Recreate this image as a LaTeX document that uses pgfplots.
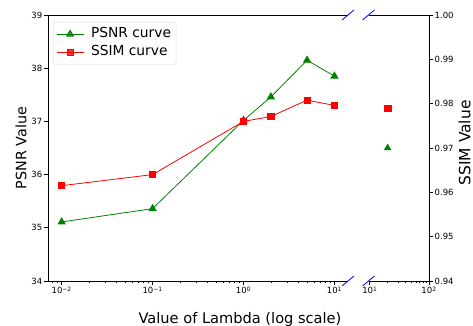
\documentclass[border=0pt]{standalone}
\usepackage{pgfplots}
\pgfplotsset{compat=1.18}
\usepackage{fontspec}
\setmainfont{DejaVu Sans}
\definecolor{mplgreen}{RGB}{0,128,0}
\definecolor{mplred}{RGB}{255,0,0}
\begin{document}
\begin{tikzpicture}
\useasboundingbox (0,0) rectangle (473pt,326pt);
% ---- left part, PSNR ----
\begin{axis}[scale only axis, anchor=south west, at={(48pt,45pt)}, width=300pt, height=266pt,
  xmode=log, ymin=34, ymax=39,
  xmin=0.00708, xmax=14.1,
  axis line style={draw=none},
  tick align=outside, major tick length=4pt, minor tick length=2.2pt,
  tick style={black, line width=0.7pt},
  ticklabel style={font=\fontsize{8.5}{10}\selectfont, inner sep=1.5pt},
  clip=false,
  xtick={0.01,0.1,1,10},
  xticklabels={10\textsuperscript{−2},10\textsuperscript{−1},10\textsuperscript{0},10\textsuperscript{1}},
  minor xtick={0.008,0.009,0.02,0.03,0.04,0.05,0.06,0.07,0.08,0.09,0.2,0.3,0.4,0.5,0.6,0.7,0.8,0.9,2,3,4,5,6,7,8,9},
  xtick pos=bottom, ytick pos=left,
  ytick={34,35,36,37,38,39},
  yticklabels={34,35,36,37,38,39},
  ylabel={PSNR Value},
  ylabel style={at={(axis description cs:-0.09,0.5)}, anchor=center, rotate=0, font=\fontsize{14.3}{16}\selectfont},
  xlabel={Value of Lambda (log scale)},
  xlabel style={at={(axis description cs:0.64,-0.143)}, anchor=center, font=\fontsize{14.6}{16}\selectfont},
]
\addplot[mplgreen, line width=0.8pt, mark=triangle*, mark size=4pt] coordinates {(0.01,35.11) (0.1,35.36) (1,37.02) (2,37.46) (5,38.15) (10,37.85)};
\draw[black, line width=0.8pt] (rel axis cs:1,0) -- (rel axis cs:0,0) -- (rel axis cs:0,1) -- (rel axis cs:1,1);
\draw[blue, line width=0.8pt] (rel axis cs:1,0) ++(-6pt,-5pt) -- ++(12pt,10pt);
\draw[blue, line width=0.8pt] (rel axis cs:1,1) ++(-6pt,-5pt) -- ++(12pt,10pt);
\end{axis}
% ---- left part, SSIM ----
\begin{axis}[scale only axis, anchor=south west, at={(48pt,45pt)}, width=300pt, height=266pt,
  xmode=log,
  xmin=0.00708, xmax=14.1, ymin=0.94, ymax=1.00,
  axis line style={draw=none},
  clip=false,
  xtick=\empty, ytick=\empty, minor xtick={},
  legend image code/.code={\draw[mark repeat=2,mark phase=2,#1] plot coordinates {(0pt,0pt) (13.5pt,0pt) (27pt,0pt)};},
  legend style={at={(axis description cs:0.0167,0.9737)}, anchor=north west,
    draw=black!15, rounded corners=2pt, fill=white, fill opacity=0.8, text opacity=1,
    font=\fontsize{13.8}{16}\selectfont, inner xsep=3pt, inner ysep=3.5pt, row sep=1.3pt,
    nodes={inner sep=2pt, text height=10pt, text depth=3pt},
    /tikz/every odd column/.append style={column sep=5pt}},
  legend cell align=left,
]
\addlegendimage{mplgreen, line width=0.8pt, mark=triangle*, mark size=4pt}
\addlegendentry{PSNR curve}
\addplot[mplred, line width=0.8pt, mark=square*, mark size=3.1pt] coordinates {(0.01,0.9615) (0.1,0.964) (1,0.976) (2,0.9771) (5,0.9808) (10,0.9796)};
\addlegendentry{SSIM curve}
\end{axis}
% ---- right part, PSNR ----
\begin{axis}[scale only axis, anchor=south west, at={(368.5pt,45pt)}, width=60.5pt, height=266pt,
  xmode=log, ymin=34, ymax=39,
  xmin=9.5, xmax=100,
  axis line style={draw=none},
  tick align=outside, major tick length=4pt, minor tick length=2.2pt,
  tick style={black, line width=0.7pt},
  ticklabel style={font=\fontsize{8.5}{10}\selectfont, inner sep=1.5pt},
  clip=false,
  xtick={10,100},
  xticklabels={10\textsuperscript{1},10\textsuperscript{2}},
  minor xtick={20,30,40,50,60,70,80,90},
  xtick pos=bottom, ytick=\empty,
]
\addplot[mplgreen, only marks, mark=triangle*, mark size=4pt] coordinates {(20,36.5)};
\end{axis}
% ---- right part, SSIM ----
\begin{axis}[scale only axis, anchor=south west, at={(368.5pt,45pt)}, width=60.5pt, height=266pt,
  xmode=log,
  xmin=9.5, xmax=100, ymin=0.94, ymax=1.00,
  axis line style={draw=none},
  tick align=outside, major tick length=4pt, minor tick length=2.2pt,
  tick style={black, line width=0.7pt},
  ticklabel style={font=\fontsize{8.5}{10}\selectfont, inner sep=1.5pt},
  clip=false,
  xtick=\empty, minor xtick={},
  ytick={0.94,0.95,0.96,0.97,0.98,0.99,1.00},
  yticklabels={0.94,0.95,0.96,0.97,0.98,0.99,1.00},
  ytick pos=right,
  ylabel={SSIM Value},
  ylabel style={at={(axis description cs:1.59,0.519)}, anchor=center, rotate=0, font=\fontsize{15.5}{17}\selectfont},
]
\addplot[mplred, only marks, mark=square*, mark size=3.1pt] coordinates {(20,0.979)};
\draw[black, line width=0.8pt] (rel axis cs:0,0) -- (rel axis cs:1,0) -- (rel axis cs:1,1) -- (rel axis cs:0,1);
\draw[blue, line width=0.8pt] (rel axis cs:0,0) ++(-6pt,-5pt) -- ++(12pt,10pt);
\draw[blue, line width=0.8pt] (rel axis cs:0,1) ++(-6pt,-5pt) -- ++(12pt,10pt);
\end{axis}
\end{tikzpicture}
\end{document}
